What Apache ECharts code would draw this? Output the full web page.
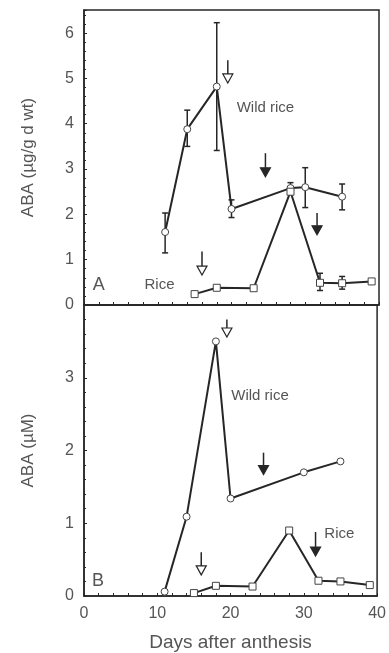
<!DOCTYPE html>
<html>
<head>
<meta charset="utf-8">
<script src="https://cdn.jsdelivr.net/npm/echarts@6/dist/echarts.min.js"></script>
<style>
  html, body { margin: 0; padding: 0; background: #fff; }
  #chart { width: 389px; height: 653px; }
</style>
</head>
<body>
<div id="chart"></div>
<script>
// days after anthesis
const wildDaysA = [11, 14, 18, 20, 28, 30, 35];
const wildA = [1.61, 3.88, 4.82, 2.12, 2.58, 2.6, 2.39];
const wildErrA = [[1.15, 2.03], [3.5, 4.3], [3.41, 6.23], [1.93, 2.32], [2.45, 2.7], [2.15, 3.03], [2.1, 2.67]];

const riceDaysA = [15, 18, 23, 28, 32, 35, 39];
const riceA = [0.24, 0.38, 0.37, 2.5, 0.49, 0.48, 0.52];
const riceErrA = [null, null, [0.32, 0.42], null, [0.32, 0.7], [0.35, 0.63], null];

const wildDaysB = [11, 14, 18, 20, 30, 35];
const wildB = [0.06, 1.09, 3.5, 1.34, 1.7, 1.85];
const riceDaysB = [15, 18, 23, 28, 32, 35, 39];
const riceB = [0.04, 0.14, 0.13, 0.9, 0.21, 0.2, 0.15];

// arrows: [day, top, tip, filled]
const arrowsA = [[19.5, 5.4, 4.9, 0], [24.6, 3.35, 2.83, 1], [31.6, 2.03, 1.55, 1], [16, 1.18, 0.66, 0]];
const arrowsB = [[19.5, 3.8, 3.56, 0], [24.5, 1.97, 1.67, 1], [31.6, 0.88, 0.55, 1], [16, 0.6, 0.29, 0]];

// text labels: [day, value, text]
const notesA = [[20.7, 4.35, "Wild rice"], [8.2, 0.44, "Rice"], [1.2, 0.44, "A"]];
const notesB = [[20.1, 2.75, "Wild rice"], [32.8, 0.85, "Rice"], [1.1, 0.2, "B"]];

const xTicks = [0, 10, 20, 30, 40];
const yTicksA = [0, 1, 2, 3, 4, 5, 6];
const yTicksB = [0, 1, 2, 3];

const ink = "#262626";
const textCol = "#555";
const font = "'Liberation Sans', Arial, sans-serif";

const pair = (xs, ys) => xs.map((x, i) => [x, ys[i]]);

const errData = (xs, errs) => xs.map((x, i) => errs[i] ? [x, errs[i][0], errs[i][1]] : null).filter(Boolean);

function errorBars(xi, yi, data) {
  return {
    type: "custom",
    xAxisIndex: xi,
    yAxisIndex: yi,
    z: 2,
    silent: true,
    data: data,
    renderItem: (params, api) => {
      const lo = api.coord([api.value(0), api.value(1)]);
      const hi = api.coord([api.value(0), api.value(2)]);
      const w = 3;
      const st = { stroke: ink, lineWidth: 1.5 };
      return {
        type: "group",
        children: [
          { type: "line", shape: { x1: lo[0], y1: lo[1], x2: hi[0], y2: hi[1] }, style: st },
          { type: "line", shape: { x1: lo[0] - w, y1: lo[1], x2: lo[0] + w, y2: lo[1] }, style: st },
          { type: "line", shape: { x1: hi[0] - w, y1: hi[1], x2: hi[0] + w, y2: hi[1] }, style: st },
        ],
      };
    },
  };
}

function arrows(xi, yi, data) {
  return {
    type: "custom",
    xAxisIndex: xi,
    yAxisIndex: yi,
    z: 4,
    silent: true,
    data: data,
    renderItem: (params, api) => {
      const top = api.coord([api.value(0), api.value(1)]);
      const tip = api.coord([api.value(0), api.value(2)]);
      const filled = api.value(3) === 1;
      const hh = 9, hw = 5;
      return {
        type: "group",
        children: [
          { type: "line", shape: { x1: top[0], y1: top[1], x2: tip[0], y2: tip[1] - hh }, style: { stroke: ink, lineWidth: 1.5 } },
          {
            type: "polygon",
            shape: { points: [[tip[0] - hw, tip[1] - hh], [tip[0] + hw, tip[1] - hh], [tip[0], tip[1]]] },
            style: { fill: filled ? ink : "#fff", stroke: ink, lineWidth: 1.2 },
          },
        ],
      };
    },
  };
}

function notes(xi, yi, data) {
  return {
    type: "custom",
    xAxisIndex: xi,
    yAxisIndex: yi,
    z: 5,
    silent: true,
    data: data,
    renderItem: (params, api) => {
      const p = api.coord([api.value(0), api.value(1)]);
      const t = data[params.dataIndex][2];
      return {
        type: "text",
        x: p[0],
        y: p[1],
        style: {
          text: t,
          fill: textCol,
          fontFamily: font,
          fontSize: t.length === 1 ? 18 : 15,
          verticalAlign: "middle",
        },
      };
    },
  };
}

function line(xi, yi, data, symbol) {
  return {
    type: "line",
    xAxisIndex: xi,
    yAxisIndex: yi,
    z: 3,
    data: data,
    symbol: symbol,
    symbolSize: 7,
    showAllSymbol: true,
    lineStyle: { color: ink, width: 2 },
    itemStyle: { color: "#fff", borderColor: "#444", borderWidth: 1 },
  };
}

function xAxis(gi, showLabels) {
  return {
    type: "value",
    gridIndex: gi,
    min: 0,
    max: 40,
    interval: 10,
    axisLine: { show: true, onZero: false, lineStyle: { color: ink, width: 1.5 } },
    axisTick: { show: true, inside: true, length: 3, lineStyle: { color: ink } },
    minorTick: { show: true, splitNumber: 5, length: 3, lineStyle: { color: ink } },
    splitLine: { show: false },
    axisLabel: {
      show: showLabels,
      color: textCol,
      fontFamily: font,
      fontSize: 16,
      margin: 10,
      customValues: xTicks,
    },
    name: showLabels ? "Days after anthesis" : "",
    nameLocation: "middle",
    nameGap: 37,
    nameTextStyle: { color: textCol, fontFamily: font, fontSize: 19 },
  };
}

function yAxis(gi, max, ticks, name) {
  return {
    type: "value",
    gridIndex: gi,
    min: 0,
    max: max,
    interval: 1,
    axisLine: { show: true, lineStyle: { color: ink, width: 1.5 } },
    axisTick: { show: true, inside: true, length: 3, lineStyle: { color: ink } },
    minorTick: { show: true, splitNumber: 5, length: 2, lineStyle: { color: ink } },
    splitLine: { show: false },
    axisLabel: {
      color: textCol,
      fontFamily: font,
      fontSize: 16,
      margin: 10,
      customValues: ticks,
    },
    name: name,
    nameLocation: "middle",
    nameGap: 47,
    nameTextStyle: { color: textCol, fontFamily: font, fontSize: 17 },
  };
}

const chart = echarts.init(document.getElementById("chart"));
chart.setOption({
  backgroundColor: "#fff",
  animation: false,
  grid: [
    { left: 84, right: 10, top: 10, height: 295, show: true, borderColor: ink, borderWidth: 1.5 },
    { left: 84, right: 10, top: 305, height: 292, show: true, borderColor: ink, borderWidth: 1.5 },
  ],
  xAxis: [xAxis(0, false), xAxis(1, true)],
  yAxis: [
    yAxis(0, 6.51, yTicksA, "ABA (\u00b5g/g d wt)"),
    yAxis(1, 4, yTicksB, "ABA (\u00b5M)"),
  ],
  series: [
    errorBars(0, 0, errData(wildDaysA, wildErrA)),
    errorBars(0, 0, errData(riceDaysA, riceErrA)),
    line(0, 0, pair(wildDaysA, wildA), "circle"),
    line(0, 0, pair(riceDaysA, riceA), "rect"),
    line(1, 1, pair(wildDaysB, wildB), "circle"),
    line(1, 1, pair(riceDaysB, riceB), "rect"),
    arrows(0, 0, arrowsA),
    arrows(1, 1, arrowsB),
    notes(0, 0, notesA),
    notes(1, 1, notesB),
  ],
});
</script>
</body>
</html>
